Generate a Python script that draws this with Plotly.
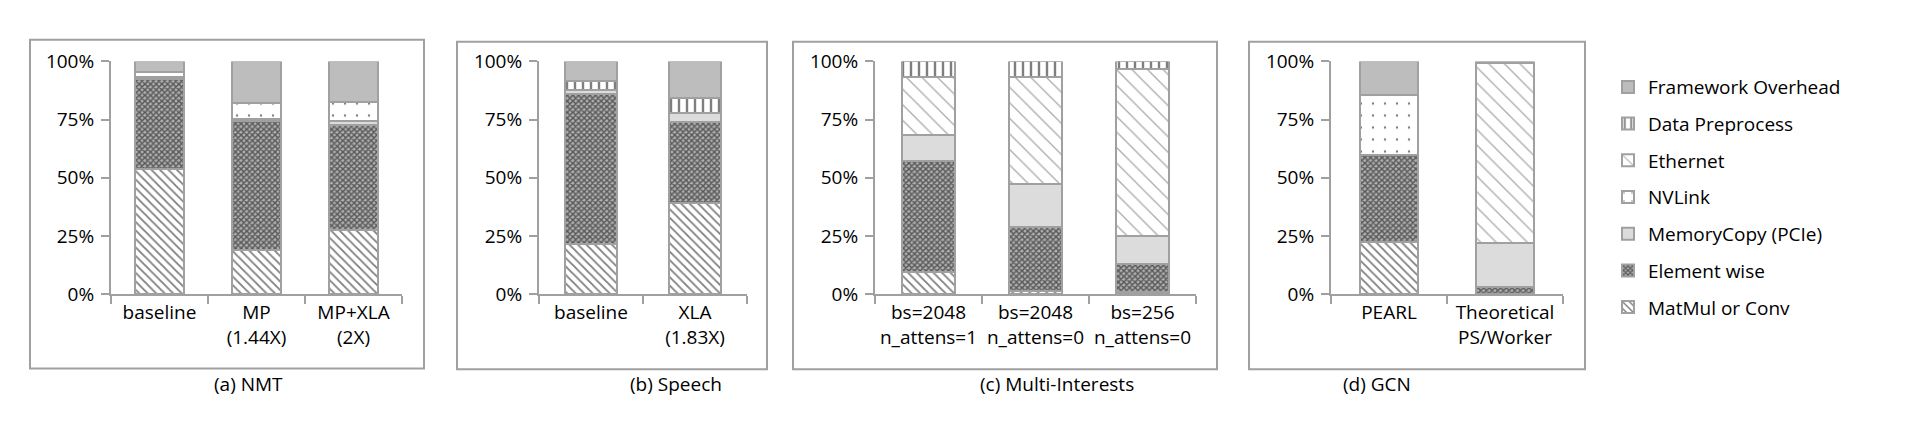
import plotly.graph_objects as go

W, H = 1914, 444

# category labels per panel
panel_titles = ["(a) NMT", "(b) Speech", "(c) Multi-Interests", "(d) GCN"]
cats = [
    ["baseline", "MP<br>(1.44X)", "MP+XLA<br>(2X)"],
    ["baseline", "XLA<br>(1.83X)"],
    ["bs=2048<br>n_attens=1", "bs=2048<br>n_attens=0", "bs=256<br>n_attens=0"],
    ["PEARL", "Theoretical<br>PS/Worker"],
]
y_ticks = [0, 25, 50, 75, 100]
y_ticktext = ["0%", "25%", "50%", "75%", "100%"]

# share of time (%) per series, one list per panel
matmul      = [[53.7, 19.0, 27.4], [21.5, 39.2], [9.4, 1.5, 1.0], [22.4, 0.0]]
elementwise = [[38.7, 55.6, 45.2], [64.4, 34.8], [47.8, 27.5, 12.1], [37.5, 3.0]]
memcopy     = [[0.8, 0.7, 1.6], [1.7, 3.8], [11.2, 18.3, 11.9], [0.0, 18.8]]
ethernet    = [[0.0, 0.0, 0.0], [0.0, 0.0], [24.9, 46.2, 71.6], [0.0, 77.5]]
nvlink      = [[2.3, 6.7, 8.5], [0.0, 0.0], [0.0, 0.0, 0.0], [25.8, 0.0]]
dataprep    = [[0.0, 0.0, 0.0], [4.1, 6.7], [6.7, 6.5, 3.4], [0.0, 0.0]]
framework   = [[4.5, 18.0, 17.3], [8.3, 15.5], [0.0, 0.0, 0.0], [14.3, 0.7]]

# name, values, fill pattern (None = solid), legend rank
series = [
    ("MatMul or Conv", matmul, dict(shape="\\", size=6, solidity=0.3), 7),
    ("Element wise", elementwise, dict(shape="x", size=4, solidity=0.6, bgcolor="#b0b0b0"), 6),
    ("MemoryCopy (PCIe)", memcopy, None, 5),
    ("Ethernet", ethernet, dict(shape="\\", size=11, solidity=0.12, fgcolor="#555555"), 3),
    ("NVLink", nvlink, dict(shape=".", size=12, solidity=0.03), 4),
    ("Data Preprocess", dataprep, dict(shape="|", size=8, solidity=0.3), 2),
    ("Framework Overhead", framework, None, 1),
]
solid_colors = {"MemoryCopy (PCIe)": "#dcdcdc", "Framework Overhead": "#bdbdbd"}

# pixel geometry of each panel: axis span and surrounding frame
x_px = [(103, 394), (531, 739), (867, 1188), (1323, 1555)]
frames = [(22, 20, 416, 369), (449, 22, 759, 370), (785, 22, 1209, 370), (1241, 22, 1577, 370)]
title_x = [204, 620, 1049, 1405]
y0_px, y100_px = 290, 43

FONT = "Open Sans"
GRID = "#a0a0a0"

fig = go.Figure()

for p in range(4):
    ax = "" if p == 0 else str(p + 1)
    for name, vals, pat, rank in series:
        if pat is None:
            marker = dict(color=solid_colors[name], line=dict(color=GRID, width=2))
        else:
            pattern = dict(fgcolor="black", bgcolor="white")
            pattern.update(pat)
            marker = dict(color="white", line=dict(color=GRID, width=2), pattern=pattern)
        fig.add_trace(go.Bar(
            x=cats[p], y=vals[p], name=name, marker=marker,
            xaxis="x" + ax, yaxis="y" + ax,
            legendgroup=name, legendrank=rank, showlegend=(p == 0),
        ))

    fig.layout["xaxis" + ax] = dict(
        domain=[x_px[p][0] / W, x_px[p][1] / W], anchor="y" + ax,
        showline=True, linecolor=GRID, linewidth=2,
        ticks="outside", tickson="boundaries", ticklen=8, tickcolor=GRID, tickwidth=2,
        tickangle=0,
        tickfont=dict(family=FONT, size=19, color="black"),
        showgrid=False, fixedrange=True,
    )
    fig.layout["yaxis" + ax] = dict(
        domain=[1 - y0_px / H, 1 - y100_px / H], anchor="x" + ax,
        range=[0, 100], tickvals=y_ticks, ticktext=y_ticktext,
        showline=True, linecolor=GRID, linewidth=2,
        ticks="outside", ticklen=8, tickcolor=GRID, tickwidth=2,
        ticklabelstandoff=3,
        tickfont=dict(family=FONT, size=19, color="black"),
        showgrid=False, zeroline=False, fixedrange=True,
    )

    x0, y0, x1, y1 = frames[p]
    fig.add_shape(type="rect", xref="paper", yref="paper",
                  x0=x0 / W, x1=x1 / W, y0=1 - y1 / H, y1=1 - y0 / H,
                  line=dict(color=GRID, width=2))
    fig.add_annotation(text=panel_titles[p], xref="paper", yref="paper",
                       x=title_x[p] / W, y=1 - 402 / H, showarrow=False,
                       font=dict(family=FONT, size=19, color="black"))

fig.update_layout(
    width=W, height=H,
    margin=dict(l=0, r=0, t=0, b=0),
    barmode="stack", bargap=0.5,
    plot_bgcolor="white", paper_bgcolor="white",
    font=dict(family=FONT, size=19, color="black"),
    legend=dict(x=1600 / W, y=1 - 50 / H, xanchor="left", yanchor="top",
                traceorder="grouped", tracegroupgap=9,
                font=dict(family=FONT, size=19, color="black"),
                itemwidth=30, bgcolor="rgba(0,0,0,0)"),
)

fig.write_html("out.html")
